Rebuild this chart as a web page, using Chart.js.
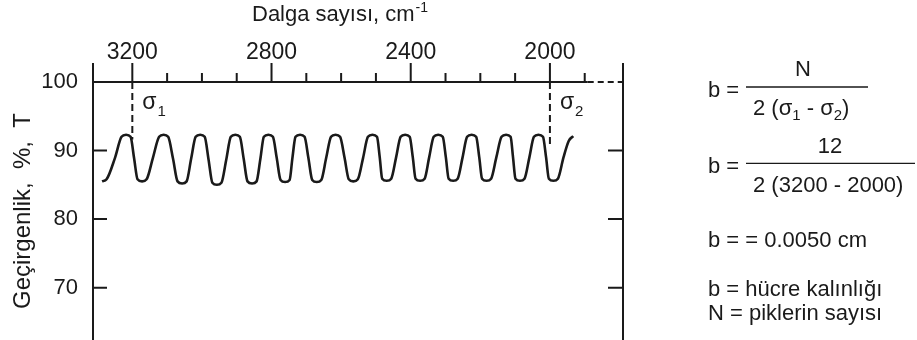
<!DOCTYPE html>
<html>
<head>
<meta charset="utf-8">
<script src="https://cdn.jsdelivr.net/npm/chart.js@4/dist/chart.umd.min.js"></script>
<style>
  body { margin: 0; background: #fff; }
  #wrap { width: 917px; height: 340px; }
</style>
</head>
<body>
<div id="wrap"><canvas id="fringes"></canvas></div>
<script>
// Interference fringes of an empty cell

// labelled and unlabelled ticks of the top (wavenumber) axis
const xTicks = [3200, 2800, 2400, 2000];
const xMinorTicks = [3100, 3000, 2900, 2700, 2600, 2500, 2300, 2200, 2100, 1900];
const yTicks = [100, 90, 80, 70];

// sigma marks: position and where the dashed line stops
const sigmaX = [3200, 2000];
const sigmaEnd = [91.6, 90.4];

// [wavenumber, %T] along the trace
const fringePoints = [
    [3287, 85.5], [3274, 85.8], [3250, 88.9], [3231, 92.0], [3218, 92.3],
    [3205, 92.0], [3195, 88.9], [3185, 85.8], [3172, 85.5],
    [3159, 85.8], [3141, 88.9], [3123, 92.0], [3110, 92.3],
    [3097, 92.0], [3083, 88.8], [3070, 85.5], [3057, 85.2],
    [3044, 85.5], [3031, 88.8], [3018, 92.0], [3005, 92.3],
    [2992, 92.0], [2981, 88.7], [2970, 85.3], [2957, 85.0],
    [2944, 85.3], [2930, 88.7], [2917, 92.0], [2904, 92.3],
    [2891, 92.0], [2880, 88.8], [2869, 85.5], [2856, 85.2],
    [2843, 85.5], [2832, 88.8], [2822, 92.0], [2809, 92.3],
    [2796, 92.0], [2785, 88.9], [2774, 85.7], [2761, 85.4],
    [2748, 85.7], [2740, 88.9], [2731, 92.0], [2718, 92.3],
    [2705, 92.0], [2694, 88.9], [2683, 85.7], [2670, 85.4],
    [2657, 85.7], [2643, 88.9], [2629, 92.0], [2616, 92.3],
    [2603, 92.0], [2590, 88.9], [2578, 85.8], [2565, 85.5],
    [2552, 85.8], [2537, 88.9], [2523, 92.0], [2510, 92.3],
    [2497, 92.0], [2489, 89.0], [2482, 85.9], [2469, 85.6],
    [2456, 85.9], [2442, 89.0], [2429, 92.0], [2416, 92.3],
    [2403, 92.0], [2394, 89.0], [2386, 85.9], [2373, 85.6],
    [2360, 85.9], [2347, 89.0], [2334, 92.0], [2321, 92.3],
    [2308, 92.0], [2299, 89.0], [2291, 85.9], [2278, 85.6],
    [2265, 85.9], [2251, 89.0], [2238, 92.0], [2225, 92.3],
    [2212, 92.0], [2203, 89.0], [2195, 85.9], [2182, 85.6],
    [2169, 85.9], [2154, 89.0], [2139, 92.0], [2126, 92.3],
    [2113, 92.0], [2106, 89.0], [2099, 85.9], [2086, 85.6],
    [2073, 85.9], [2059, 89.0], [2046, 92.0], [2033, 92.3],
    [2020, 92.0], [2011, 89.0], [2003, 85.9], [1990, 85.6],
    [1977, 85.9], [1961, 89.0], [1946, 91.4], [1933, 92.1]
];

const ink = '#1a1a1a';
const fontFamily = '"Liberation Sans", Arial, sans-serif';
Chart.defaults.font.family = fontFamily;
Chart.defaults.font.size = 22;
Chart.defaults.color = ink;

// axis frame, ticks, sigma labels, titles and the formulas on the right
const framePlugin = {
    id: 'frame',
    afterDatasetsDraw(chart) {
        const { ctx, chartArea: a, scales: { x, y } } = chart;
        ctx.save();
        ctx.strokeStyle = ink;
        ctx.fillStyle = ink;
        ctx.lineWidth = 2;

        const solidEnd = x.getPixelForValue(1900) + 3;
        ctx.beginPath();
        ctx.moveTo(a.left, a.top); ctx.lineTo(solidEnd, a.top);
        ctx.moveTo(a.left, a.top - 19); ctx.lineTo(a.left, a.bottom);
        ctx.moveTo(a.right, a.top - 19); ctx.lineTo(a.right, a.bottom);
        xTicks.forEach(v => {
            const px = x.getPixelForValue(v);
            ctx.moveTo(px, a.top); ctx.lineTo(px, a.top - 19);
        });
        xMinorTicks.forEach(v => {
            const px = x.getPixelForValue(v);
            ctx.moveTo(px, a.top); ctx.lineTo(px, a.top - 9);
        });
        yTicks.slice(1).forEach(v => {
            const py = y.getPixelForValue(v);
            ctx.moveTo(a.left, py); ctx.lineTo(a.left + 14, py);
            ctx.moveTo(a.right - 15, py); ctx.lineTo(a.right, py);
        });
        ctx.stroke();

        ctx.beginPath();
        ctx.setLineDash([6, 4]);
        ctx.moveTo(solidEnd, a.top); ctx.lineTo(a.right, a.top);
        ctx.stroke();
        ctx.setLineDash([]);

        ctx.textBaseline = 'alphabetic';
        ctx.textAlign = 'left';
        sigmaX.forEach((v, i) => {
            const px = x.getPixelForValue(v) + 10;
            ctx.font = '23px ' + fontFamily;
            ctx.fillText('σ', px, 108.5);
            const w = ctx.measureText('σ').width;
            ctx.font = '15px ' + fontFamily;
            ctx.fillText(String(i + 1), px + w + 1, 116);
        });

        // top axis title with superscript
        ctx.font = '22px ' + fontFamily;
        ctx.fillText('Dalga sayısı, cm', 252, 21);
        const tw = ctx.measureText('Dalga sayısı, cm').width;
        ctx.font = '14px ' + fontFamily;
        ctx.fillText('-1', 252 + tw + 1, 12);

        // formulas
        const big = '22px ' + fontFamily;
        const sub = '15px ' + fontFamily;
        ctx.font = big;
        ctx.fillText('b =', 708, 96.5);
        ctx.textAlign = 'center';
        ctx.fillText('N', 803, 76);
        ctx.textAlign = 'left';
        let cx = 753;
        [['2 (σ', big, 115], ['1', sub, 120], [' - σ', big, 115], ['2', sub, 120], [')', big, 115]]
            .forEach(([t, f, base]) => {
                ctx.font = f;
                ctx.fillText(t, cx, base);
                cx += ctx.measureText(t).width;
            });

        ctx.font = big;
        ctx.fillText('b =', 708, 172.5);
        ctx.textAlign = 'center';
        ctx.fillText('12', 830, 153);
        ctx.textAlign = 'left';
        ctx.fillText('2 (3200 - 2000)', 753, 192);
        ctx.fillText('b = = 0.0050 cm', 708, 247);
        ctx.fillText('b = hücre kalınlığı', 708, 296);
        ctx.fillText('N = piklerin sayısı', 708, 320);

        ctx.lineWidth = 1.3;
        ctx.beginPath();
        ctx.moveTo(746, 87); ctx.lineTo(868, 87);
        ctx.moveTo(746, 163.3); ctx.lineTo(915, 163.3);
        ctx.stroke();
        ctx.restore();
    }
};

const sigmaLines = sigmaX.map((v, i) => ({
    data: [{ x: v, y: 100 }, { x: v, y: sigmaEnd[i] }],
    borderColor: ink,
    borderWidth: 2,
    borderDash: [7, 4],
    pointRadius: 0
}));

new Chart(document.getElementById('fringes').getContext('2d'), {
    type: 'line',
    data: {
        datasets: [{
            data: fringePoints.map(([x, y]) => ({ x, y })),
            borderColor: ink,
            borderWidth: 2.6,
            pointRadius: 0,
            cubicInterpolationMode: 'monotone'
        }, ...sigmaLines]
    },
    options: {
        responsive: true,
        maintainAspectRatio: false,
        animation: false,
        layout: { padding: { left: 0, top: 0, right: 294, bottom: 0 } },
        plugins: {
            legend: { display: false },
            tooltip: { enabled: false }
        },
        scales: {
            x: {
                type: 'linear',
                position: 'top',
                reverse: true,
                min: 1790,
                max: 3313,
                afterBuildTicks: scale => { scale.ticks = xTicks.map(v => ({ value: v })); },
                afterFit: scale => {
                    scale.height = 82;
                    scale.paddingLeft = 0;
                    scale.paddingRight = 0;
                },
                grid: { display: false, drawTicks: false },
                border: { display: false },
                ticks: {
                    padding: 16,
                    maxRotation: 0,
                    autoSkip: false,
                    color: ink,
                    font: { size: 23 },
                    callback: v => String(v)
                }
            },
            y: {
                min: 62.36,
                max: 100,
                afterBuildTicks: scale => { scale.ticks = yTicks.map(v => ({ value: v })); },
                afterFit: scale => {
                    scale.width = 93;
                    scale.paddingTop = 0;
                    scale.paddingBottom = 0;
                },
                grid: { display: false, drawTicks: false },
                border: { display: false },
                ticks: { padding: 15, color: ink, callback: v => String(v) },
                title: {
                    display: true,
                    text: 'Geçirgenlik,  %,  T',
                    color: ink,
                    font: { size: 24 },
                    padding: { top: 9 }
                }
            }
        }
    },
    plugins: [framePlugin]
});
</script>
</body>
</html>
